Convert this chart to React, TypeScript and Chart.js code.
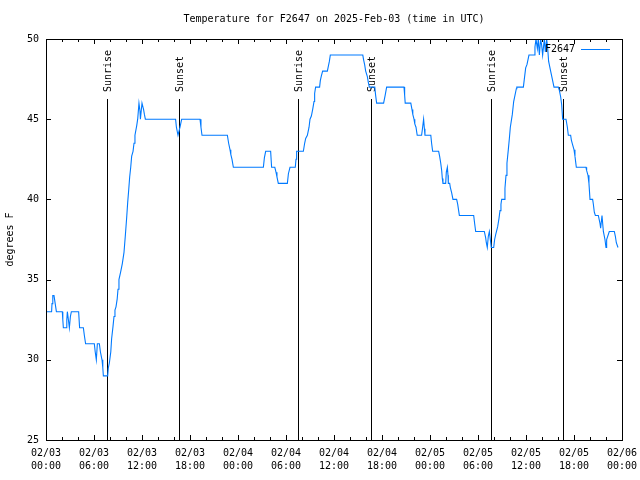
import React, { useEffect, useRef } from 'react';
import { Chart, registerables } from 'chart.js';

Chart.register(...registerables);

const titleText = 'Temperature for F2647 on 2025-Feb-03 (time in UTC)';
const seriesName = 'F2647';
const yAxisTitle = 'degrees F';

// hours since 2025-02-03 00:00 UTC
const hours = [
  0, 0.7, 0.75, 0.85, 1.0, 1.15, 1.3, 2.04, 2.1, 2.17, 2.54, 2.6, 2.67, 2.8, 2.92, 3.05, 3.17, 4.08, 4.2, 4.67,
  4.8, 4.95, 6.04, 6.15, 6.29, 6.42, 6.67, 6.8, 7.0, 7.1, 7.17, 7.71, 7.79, 7.92, 8.1, 8.2, 8.38, 8.5, 8.62, 8.75,
  8.9, 9.0, 9.12, 9.34, 9.54, 9.75, 9.91, 10.09, 10.21, 10.34, 10.46, 10.59, 10.71, 10.88, 11.0, 11.12, 11.34, 11.46, 11.62, 11.75,
  11.8, 11.9, 12.0, 12.1, 12.2, 12.3, 12.42, 16.2, 16.3, 16.5, 16.75, 16.96, 19.25, 19.37, 19.5, 22.67, 22.83, 23.0, 23.1, 23.25,
  23.42, 27.17, 27.3, 27.46, 28.08, 28.2, 28.6, 28.75, 28.87, 29.04, 30.17, 30.3, 30.5, 31.16, 31.25, 31.33, 32.17, 32.33, 32.46, 32.67,
  32.88, 33.0, 33.17, 33.33, 33.5, 33.58, 33.7, 34.2, 34.29, 34.42, 34.58, 35.17, 35.29, 35.42, 35.54, 39.6, 39.7, 39.83, 39.96, 40.17,
  40.29, 40.42, 41.1, 41.2, 41.33, 42.2, 42.4, 42.58, 44.75, 44.83, 44.9, 45.6, 45.75, 45.85, 46.0, 46.1, 46.25, 46.4, 46.95, 47.08,
  47.2, 47.3, 47.37, 48.1, 48.2, 48.33, 49.08, 49.2, 49.33, 49.46, 49.54, 49.62, 49.96, 50.04, 50.17, 50.25, 50.29, 50.46, 50.54, 50.71,
  50.87, 51.33, 51.46, 51.67, 53.46, 53.58, 53.71, 54.79, 54.96, 55.04, 55.16, 55.29, 55.42, 55.54, 55.66, 55.96, 56.08, 56.21, 56.46, 56.62,
  56.75, 56.87, 56.96, 57.29, 57.37, 57.5, 57.62, 57.79, 57.92, 58.04, 58.29, 58.46, 58.79, 58.85, 59.67, 59.79, 59.96, 60.12, 60.37, 61.0,
  61.12, 61.25, 61.42, 61.54, 61.67, 61.83, 61.96, 62.08, 62.29, 62.42, 62.58, 62.7, 62.83, 63.08, 63.33, 63.5, 64.04, 64.17, 64.33, 64.46,
  64.58, 65.0, 65.17, 65.29, 65.58, 65.67, 65.83, 66.0, 66.12, 66.29, 67.5, 67.58, 67.75, 67.87, 68.0, 68.33, 68.42, 68.54, 68.67, 69.04,
  69.25, 69.33, 69.5, 69.67, 69.87, 70.0, 70.08, 70.41, 71.04, 71.17, 71.29, 71.5, 71.59,
];

const tempsF = [
  33, 33, 33.5, 34, 34, 33.5, 33, 33, 32.5, 32, 32, 32.5, 33, 32.5, 32, 32.7, 33, 33, 32, 32,
  31.5, 31, 31, 30.5, 30, 31, 31, 30.5, 30, 29.5, 29, 29, 29.5, 29.8, 30.5, 31.3, 32.1, 32.7, 33.1, 33.3,
  33.8, 34.4, 35, 35.5, 36, 36.7, 37.7, 38.9, 39.8, 40.6, 41.4, 42, 42.7, 43, 43.5, 44, 44.6, 45, 46, 45.5,
  45, 45.5, 46, 46, 45.6, 45.3, 45, 45, 44.5, 44, 44.5, 45, 45, 44.5, 44, 44, 43.5, 43.1, 42.8, 42.5,
  42, 42, 42.6, 43, 43, 42, 42, 41.7, 41.4, 41, 41, 41.6, 42, 42, 42.5, 43, 43, 43.5, 43.8, 44,
  44.5, 45, 45.2, 45.6, 46.1, 46.6, 47, 47, 47.4, 47.7, 48, 48, 48.3, 48.6, 49, 49, 48.7, 48.4, 48, 47.65,
  47.3, 47, 47, 46.5, 46, 46, 46.5, 47, 47, 46.5, 46, 46, 45.6, 45.3, 45, 44.7, 44.5, 44, 44, 44.5,
  45, 44.4, 44, 44, 43.5, 43, 43, 42.7, 42.3, 41.8, 41.3, 41, 41, 41.7, 42, 41.5, 41, 41, 40.75, 40.4,
  40, 40, 39.7, 39, 39, 38.5, 38, 38, 37.6, 37.3, 37, 37.7, 38, 37.5, 37, 37, 37.5, 37.8, 38.3, 38.8,
  39.3, 39.7, 40, 40, 40.7, 41.5, 42.25, 43.1, 43.8, 44.5, 45.3, 46.1, 46.9, 47, 47, 47.5, 48.2, 48.4, 49, 49,
  49.5, 50, 49.4, 50, 49, 50, 49.6, 49, 50, 49.2, 50, 49.5, 48.6, 48, 47.4, 47, 47, 46.8, 46.4, 45.9,
  45, 45, 44.5, 44, 44, 43.7, 43.4, 43.1, 42.7, 42, 42, 41.8, 41.5, 41, 40, 40, 39.7, 39.2, 39, 39,
  38.5, 38.2, 39, 38, 37.5, 37, 37.5, 38, 38, 37.7, 37.3, 37, 37,
];

const sunriseHours = [7.66, 31.54, 55.58];
const sunsetHours = [16.66, 40.66, 64.66];

const xTickHours = [0, 6, 12, 18, 24, 30, 36, 42, 48, 54, 60, 66, 72];
const xTickDates = ['02/03', '02/03', '02/03', '02/03', '02/04', '02/04', '02/04', '02/04', '02/05', '02/05', '02/05', '02/05', '02/06'];
const xTickTimes = ['00:00', '06:00', '12:00', '18:00', '00:00', '06:00', '12:00', '18:00', '00:00', '06:00', '12:00', '18:00', '00:00'];
const xMinorStepHours = 2;
const yTicks = [25, 30, 35, 40, 45, 50];

const LINE_COLOR = 'rgb(0,122,255)';
const FONT_FAMILY = '"DejaVu Sans Mono", "Liberation Mono", monospace';
const FONT = `10px ${FONT_FAMILY}`;

const gnuplotPlugin = {
  id: 'gnuplotDecor',
  beforeDatasetsDraw(chart: any) {
    const { ctx, chartArea, scales } = chart;
    const xs = scales.x;
    ctx.save();
    ctx.strokeStyle = '#000';
    ctx.lineWidth = 1;
    ctx.fillStyle = '#000';
    ctx.font = FONT;
    const drawSun = (h: number, label: string) => {
      const x = Math.round(xs.getPixelForValue(h)) + 0.5;
      ctx.beginPath();
      ctx.moveTo(x, chartArea.top + 60);
      ctx.lineTo(x, chartArea.bottom);
      ctx.stroke();
      ctx.save();
      ctx.translate(x + 1, chartArea.top + 53);
      ctx.rotate(-Math.PI / 2);
      ctx.textAlign = 'left';
      ctx.textBaseline = 'middle';
      ctx.fillText(label, 0, 0);
      ctx.restore();
    };
    sunriseHours.forEach((h) => drawSun(h, 'Sunrise'));
    sunsetHours.forEach((h) => drawSun(h, 'Sunset'));
    ctx.restore();
  },
  afterDraw(chart: any) {
    const { ctx, chartArea, scales } = chart;
    const xs = scales.x;
    const ys = scales.y;
    const { left, right, top, bottom } = chartArea;
    ctx.save();
    ctx.strokeStyle = '#000';
    ctx.lineWidth = 1;
    // border box
    ctx.strokeRect(left + 0.5, top + 0.5, right - left, bottom - top);
    // x ticks (inside, bottom and top)
    ctx.beginPath();
    for (let h = xTickHours[0]; h <= xTickHours[xTickHours.length - 1]; h += xMinorStepHours) {
      const major = xTickHours.includes(h);
      const len = major ? 5 : 3;
      const x = Math.round(xs.getPixelForValue(h)) + 0.5;
      ctx.moveTo(x, bottom);
      ctx.lineTo(x, bottom - len);
      ctx.moveTo(x, top);
      ctx.lineTo(x, top + len);
    }
    // y ticks (inside, left and right)
    yTicks.forEach((v) => {
      const y = Math.round(ys.getPixelForValue(v)) + 0.5;
      ctx.moveTo(left, y);
      ctx.lineTo(left + 5, y);
      ctx.moveTo(right, y);
      ctx.lineTo(right - 5, y);
    });
    ctx.stroke();

    // title
    ctx.fillStyle = '#000';
    ctx.font = FONT;
    ctx.textAlign = 'center';
    ctx.textBaseline = 'middle';
    ctx.fillText(titleText, (left + right) / 2, 19);

    // legend
    const ly = top + 10.5;
    const lineEnd = right - 12;
    const lineStart = lineEnd - 29;
    ctx.textAlign = 'right';
    ctx.fillText(seriesName, lineStart - 6, ly);
    ctx.strokeStyle = LINE_COLOR;
    ctx.beginPath();
    ctx.moveTo(lineStart, ly);
    ctx.lineTo(lineEnd, ly);
    ctx.stroke();
    ctx.restore();
  },
};

export default function App() {
  const canvasRef = useRef<HTMLCanvasElement | null>(null);

  useEffect(() => {
    const canvas = canvasRef.current;
    if (!canvas) return;
    const tickFont = { family: FONT_FAMILY, size: 10, lineHeight: 1.3 };
    const chart = new Chart(canvas, {
      type: 'line',
      data: {
        datasets: [
          {
            label: seriesName,
            data: hours.map((h, i) => ({ x: h, y: tempsF[i] })),
            borderColor: LINE_COLOR,
            borderWidth: 1.1,
            pointRadius: 0,
            tension: 0,
            fill: false,
          },
        ],
      },
      options: {
        responsive: false,
        animation: false,
        devicePixelRatio: 1,
        layout: { padding: { top: 39, right: 18, left: 0, bottom: 0 } },
        plugins: {
          legend: { display: false },
          tooltip: { enabled: false },
          title: { display: false },
        },
        scales: {
          x: {
            type: 'linear',
            min: xTickHours[0],
            max: xTickHours[xTickHours.length - 1],
            afterBuildTicks: (s: any) => {
              s.ticks = xTickHours.map((v) => ({ value: v }));
            },
            afterFit: (s: any) => {
              s.height = 40;
              s.paddingLeft = 0;
              s.paddingRight = 0;
            },
            grid: { display: false, drawTicks: false },
            border: { display: false },
            ticks: {
              autoSkip: false,
              maxRotation: 0,
              minRotation: 0,
              padding: 7,
              color: '#000',
              font: tickFont,
              callback: (value: any) => {
                const i = xTickHours.indexOf(Number(value));
                return [xTickDates[i], xTickTimes[i]];
              },
            },
          },
          y: {
            min: yTicks[0],
            max: yTicks[yTicks.length - 1],
            afterBuildTicks: (s: any) => {
              s.ticks = yTicks.map((v) => ({ value: v }));
            },
            afterFit: (s: any) => {
              s.width = 46;
              s.paddingTop = 0;
              s.paddingBottom = 0;
            },
            grid: { display: false, drawTicks: false },
            border: { display: false },
            ticks: {
              padding: 7,
              color: '#000',
              font: { family: FONT_FAMILY, size: 10 },
            },
            title: {
              display: true,
              text: yAxisTitle,
              color: '#000',
              font: { family: FONT_FAMILY, size: 10 },
              padding: { top: 4, bottom: 0 },
            },
          },
        },
      },
      plugins: [gnuplotPlugin],
    } as any);
    return () => chart.destroy();
  }, []);

  return (
    <div style={{ position: 'fixed', left: 0, top: 0, width: 640, height: 480, background: '#fff' }}>
      <canvas ref={canvasRef} width={640} height={480} style={{ display: 'block' }} />
    </div>
  );
}
